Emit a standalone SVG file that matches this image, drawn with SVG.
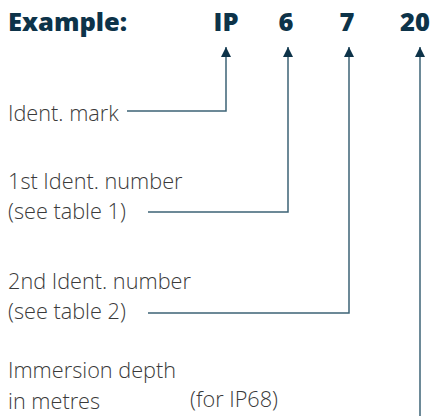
<svg xmlns="http://www.w3.org/2000/svg" width="433" height="416" viewBox="0 0 433 416">
  <defs>
    <marker id="arrow" markerUnits="userSpaceOnUse" markerWidth="12" markerHeight="12" viewBox="0 0 12 12" refX="11" refY="6" orient="auto">
      <path d="M1,1 L11,6 L1,11 Z" fill="#0d3349"/>
    </marker>
    <style>
      .title{font-family:"Open Sans","Lato","Liberation Sans",sans-serif;font-weight:800;font-size:25.5px;fill:#0d3349}
      .lbl{font-family:"Open Sans","Lato","Liberation Sans",sans-serif;font-weight:300;font-size:21.7px;fill:#3a3a3a}
      .conn{fill:none;stroke:#3d6376;stroke-width:1.5}
    </style>
  </defs>
  <rect width="433" height="416" fill="#ffffff"/>
  <g id="title">
    <text class="title" x="8" y="31">Example:</text>
  </g>
  <g id="code-ip"><text class="title" x="226" y="31" text-anchor="middle">IP</text></g>
  <g id="code-6"><text class="title" x="286" y="31" text-anchor="middle">6</text></g>
  <g id="code-7"><text class="title" x="347" y="31" text-anchor="middle">7</text></g>
  <g id="code-20"><text class="title" x="415" y="31" text-anchor="middle">20</text></g>

  <g id="label-ident">
    <text class="lbl" x="8" y="121">Ident. mark</text>
  </g>
  <g id="label-first">
    <text class="lbl" x="8" y="189">1st Ident. number</text>
    <text class="lbl" x="8" y="219">(see table 1)</text>
  </g>
  <g id="label-second">
    <text class="lbl" x="8" y="289">2nd Ident. number</text>
    <text class="lbl" x="8" y="319">(see table 2)</text>
  </g>
  <g id="label-depth">
    <text class="lbl" x="8" y="378">Immersion depth</text>
    <text class="lbl" x="8" y="409">in metres</text>
    <text class="lbl" x="190" y="407">(for IP68)</text>
  </g>

  <g id="connectors">
    <path class="conn" d="M127,111 H226 V47" marker-end="url(#arrow)"/>
    <path class="conn" d="M148,212 H288 V47" marker-end="url(#arrow)"/>
    <path class="conn" d="M148,313 H349 V47" marker-end="url(#arrow)"/>
    <path class="conn" d="M420,416 V47" marker-end="url(#arrow)"/>
  </g>
</svg>
